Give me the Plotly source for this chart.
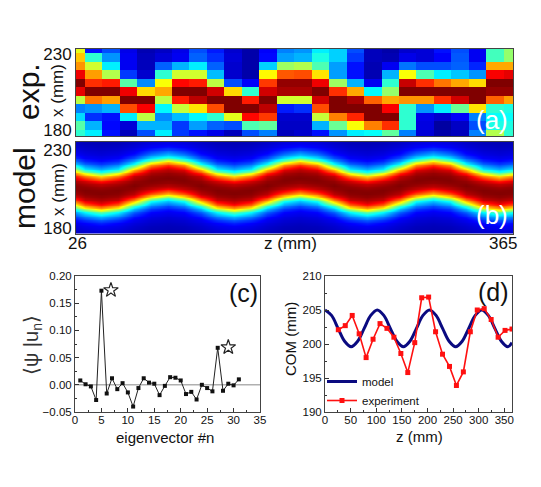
import numpy as np
import plotly.graph_objects as go

W, H = 541, 487
FONT = "Liberation Sans, Arial, sans-serif"

# (a) measured intensity, rows top to bottom, 26 z columns
z_mm = [26, 39.56, 53.12, 66.68, 80.24, 93.8, 107.36, 120.92, 134.48, 148.04, 161.6, 175.16, 188.72,
        202.28, 215.84, 229.4, 242.96, 256.52, 270.08, 283.64, 297.2, 310.76, 324.32, 337.88, 351.44, 365]
x_rows_mm = [233.5, 227.9, 222.2, 216.6, 210.9, 205.3, 199.6, 193.9, 188.3, 182.6, 177.0]
exp_r0 = [.60, .14, .20, .10, .04, .06, .10, .20, .15, .07, .03, .12, .25, .27, .36, .33, .20, .05, .03, .07, .08, .14, .20, .11, .44, .52]
exp_r1 = [.68, .42, .27, .11, .05, .08, .11, .22, .17, .08, .03, .13, .28, .30, .40, .33, .18, .05, .04, .10, .08, .12, .21, .11, .44, .52]
exp_r2 = [.73, .58, .36, .11, .05, .22, .30, .36, .22, .07, .03, .33, .53, .55, .45, .28, .14, .04, .11, .24, .20, .20, .22, .16, .71, .71]
exp_r3 = [.89, .72, .55, .18, .07, .42, .58, .58, .31, .07, .03, .63, .79, .80, .65, .28, .14, .04, .30, .62, .45, .36, .32, .27, .88, .90]
exp_r4 = [1.0, .83, .85, .46, .26, .62, .87, .85, .56, .20, .12, .82, .98, .98, .89, .53, .30, .11, .42, .93, .83, .76, .71, .66, 1.0, 1.0]
exp_r5 = [.90, 1.0, 1.0, .89, .66, .71, 1.0, 1.0, .92, .66, .42, .92, .96, .96, 1.0, .83, .71, .37, .52, 1.0, 1.0, 1.0, 1.0, 1.0, .98, .98]
exp_r6 = [.56, .76, .72, 1.0, 1.0, .56, .85, .94, 1.0, 1.0, .85, 1.0, .58, .58, .92, 1.0, .96, .78, .71, .73, .73, .83, .92, 1.0, .78, .72]
exp_r7 = [.25, .27, .30, .80, .88, .37, .57, .65, .80, 1.0, 1.0, .94, .15, .17, .80, 1.0, 1.0, 1.0, .88, .42, .27, .36, .48, .65, .42, .40]
exp_r8 = [.34, .17, .14, .36, .56, .26, .31, .37, .42, .60, .87, .82, .07, .07, .57, .75, .84, 1.0, 1.0, .42, .10, .07, .12, .25, .38, .38]
exp_r9 = [.46, .30, .13, .08, .30, .30, .18, .28, .22, .20, .45, .47, .06, .06, .30, .48, .62, .75, .83, .42, .09, .02, .06, .20, .40, .40]
exp_r10 = [.42, .36, .14, .05, .20, .36, .18, .14, .10, .05, .20, .25, .05, .07, .14, .27, .36, .38, .47, .25, .08, .03, .05, .25, .55, .42]
exp_rows = [exp_r0, exp_r1, exp_r2, exp_r3, exp_r4, exp_r5, exp_r6, exp_r7, exp_r8, exp_r9, exp_r10]

# (b) band centre read along z, and its cross-section
band_z = [19.75, 32.6, 45.5, 58.4, 71.2, 84.1, 97, 109.9, 122.8, 135.6, 148.5, 161.4, 174.2, 187.1, 200,
          212.9, 225.8, 238.6, 251.5, 264.4, 277.2, 290.1, 303, 315.9, 328.8, 341.6, 354.5, 367.4]
band_centre = [207.2, 203.8, 202.4, 203.8, 207.2, 210.6, 212.0, 210.6, 207.2, 203.8, 202.4, 203.8, 207.2, 210.6, 212.0,
               210.6, 207.2, 203.8, 202.4, 203.8, 207.2, 210.6, 212.0, 210.6, 207.2, 203.8, 202.4, 203.8]
profile_offset = [0, 3, 6, 8, 10.7, 12.5, 14, 16, 18, 21, 25, 30, 40, 60]
profile_level = [1.0, .98, .93, .83, .65, .47, .36, .27, .19, .12, .08, .05, .02, .01]
band_rows_mm = list(range(172, 241))

# (c)
eig_n = list(range(1, 32))
eig_val = [.008, .001, -.003, -.028, .173, -.016, .012, -.008, .003, -.014, -.040, -.006, .012, .004, .002, -.019,
           -.002, .014, .013, .008, -.017, -.013, -.027, 0, -.006, -.012, .068, -.011, .002, -.001, .010]
star_n = [6.8, 29]
star_val = [.174, .069]

# (d)
model_z = [0, 12.75, 25.5, 38.25, 51, 63.75, 76.5, 89.25, 102, 114.75, 127.5, 140.25, 153, 165.75, 178.5, 191.25,
           204, 216.75, 229.5, 242.25, 255, 267.75, 280.5, 293.25, 306, 318.75, 331.5, 344.25, 357, 365]
model_com = [205, 204.2, 202.3, 200.4, 199.6, 200.4, 202.3, 204.2, 205, 204.2, 202.3, 200.4, 199.6, 200.4, 202.3,
             204.2, 205, 204.2, 202.3, 200.4, 199.6, 200.4, 202.3, 204.2, 205, 204.2, 202.3, 200.4, 199.6, 200.2]
exp_com = [202.1, 202.7, 204.2, 201.5, 198, 200.7, 203, 202.3, 201, 198.6, 195.8, 200.2, 206.8, 206.9, 201.8,
           198.5, 196.7, 193.9, 195.9, 201.8, 205, 205.2, 203.6, 201, 202, 202.2]

jet = [[0, "#00008f"], [.125, "#0000ff"], [.375, "#00ffff"], [.625, "#ffff00"], [.875, "#ff0000"], [1, "#800000"]]
band_matrix = [[float(np.interp(abs(r - c), profile_offset, profile_level)) for c in band_centre] for r in band_rows_mm]


def dom_x(a, b):
    return [a / W, b / W]


def dom_y(top, bottom):
    return [1 - bottom / H, 1 - top / H]


fig = go.Figure()
fig.add_trace(go.Heatmap(x=z_mm, y=x_rows_mm, z=exp_rows, colorscale=jet, zmin=0, zmax=1, showscale=False,
                         xaxis="x", yaxis="y"))
fig.add_trace(go.Heatmap(x=band_z, y=band_rows_mm, z=band_matrix, colorscale=jet, zmin=0, zmax=1, showscale=False,
                         zsmooth="best", xaxis="x2", yaxis="y2"))
fig.add_trace(go.Scatter(x=eig_n, y=eig_val, mode="lines+markers", showlegend=False, xaxis="x3", yaxis="y3",
                         line=dict(color="#222222", width=1), marker=dict(symbol="square", size=4, color="#111111")))
fig.add_trace(go.Scatter(x=star_n, y=star_val, mode="markers", showlegend=False, xaxis="x3", yaxis="y3",
                         marker=dict(symbol="star-open", size=11, color="#222222", line=dict(width=1.2, color="#222222"))))
fig.add_trace(go.Scatter(x=model_z, y=model_com, mode="lines", name="model", xaxis="x4", yaxis="y4",
                         line=dict(color="#0a0a80", width=3, shape="spline")))
fig.add_trace(go.Scatter(x=z_mm, y=exp_com, mode="lines+markers", name="experiment", xaxis="x4", yaxis="y4",
                         line=dict(color="#ff1010", width=1.6), marker=dict(symbol="square", size=5, color="#ff1010")))

frame = dict(showline=True, linecolor="#444444", linewidth=1, mirror=True, showgrid=False, zeroline=False)
img_y = dict(tickmode="array", tickvals=[180, 230], ticks="", tickfont=dict(size=17, color="#111111", family=FONT))
chart = dict(ticks="inside", ticklen=4, tickwidth=1, tickcolor="#333333",
             tickfont=dict(size=11.5, color="#111111", family=FONT))

fig.update_layout(
    width=W, height=H, margin=dict(l=0, r=0, t=0, b=0, autoexpand=False), paper_bgcolor="white", plot_bgcolor="white",
    font=dict(family=FONT, color="#222222"),
    xaxis=dict(domain=dom_x(76, 513), range=[26, 365], anchor="y", showticklabels=False, ticks="", **frame),
    yaxis=dict(domain=dom_y(49, 136), range=[176, 233.3], anchor="x", **img_y, **frame),
    xaxis2=dict(domain=dom_x(76, 513), range=[26, 365], anchor="y2", showticklabels=False, ticks="", **frame),
    yaxis2=dict(domain=dom_y(142, 233.5), range=[176.5, 235], anchor="x2", **img_y, **frame),
    xaxis3=dict(domain=dom_x(75, 260), range=[0, 35], dtick=5, anchor="y3", ticklabelstandoff=-3,
                minor=dict(ticks="inside", ticklen=2, dtick=2.5, tickcolor="#333333"), **chart, **frame),
    yaxis3=dict(domain=dom_y(276, 412), range=[-.05, .20], dtick=.05, tickformat=".2f", anchor="x3",
                minor=dict(ticks="inside", ticklen=2, dtick=.025, tickcolor="#333333"), **chart, **frame),
    xaxis4=dict(domain=dom_x(325, 512), range=[0, 365], dtick=50, anchor="y4", ticklabelstandoff=-3,
                minor=dict(ticks="inside", ticklen=2, dtick=25, tickcolor="#333333"), **chart, **frame),
    yaxis4=dict(domain=dom_y(276, 412), range=[190, 210], dtick=5, anchor="x4",
                minor=dict(ticks="inside", ticklen=2, dtick=2.5, tickcolor="#333333"), **chart, **frame),
    legend=dict(x=322 / W, y=1 - 367 / H, xanchor="left", yanchor="top", bgcolor="rgba(0,0,0,0)",
                font=dict(size=11.5, color="#111111"), itemwidth=30, borderwidth=0),
    shapes=[dict(type="line", xref="x3", yref="y3", x0=0, x1=35, y0=0, y1=0,
                 line=dict(color="#b0b0b0", width=1.5), layer="below")],
)


def note(px, py, text, size, color="#111111", angle=0):
    fig.add_annotation(x=px / W, y=1 - py / H, xref="paper", yref="paper", text=text, showarrow=False,
                       xanchor="center", yanchor="middle", textangle=angle,
                       font=dict(size=size, color=color, family=FONT))


note(28, 92, "exp.", 30, angle=-90)
note(25, 188, "model", 30, angle=-90)
note(58, 91, "x (mm)", 17, angle=-90)
note(58, 190, "x (mm)", 17, angle=-90)
note(77, 243, "26", 17)
note(290, 243, "z (mm)", 17)
note(503, 243, "365", 17)
note(492, 120, "(a)", 26, color="white")
note(492, 215, "(b)", 26, color="white")
note(243, 293, "(c)", 25)
note(493, 292, "(d)", 25)
note(32, 345, "⟨ψ |u<sub>n</sub>⟩", 20, color="#333333", angle=-90)
note(165, 437, "eigenvector #n", 15)
note(420, 436, "z (mm)", 15)
note(290, 339, "COM (mm)", 15, angle=-90)

fig.write_html("out.html", config=dict(displayModeBar=False),
               post_script="document.body.style.margin='0';document.documentElement.style.overflow='hidden';")
